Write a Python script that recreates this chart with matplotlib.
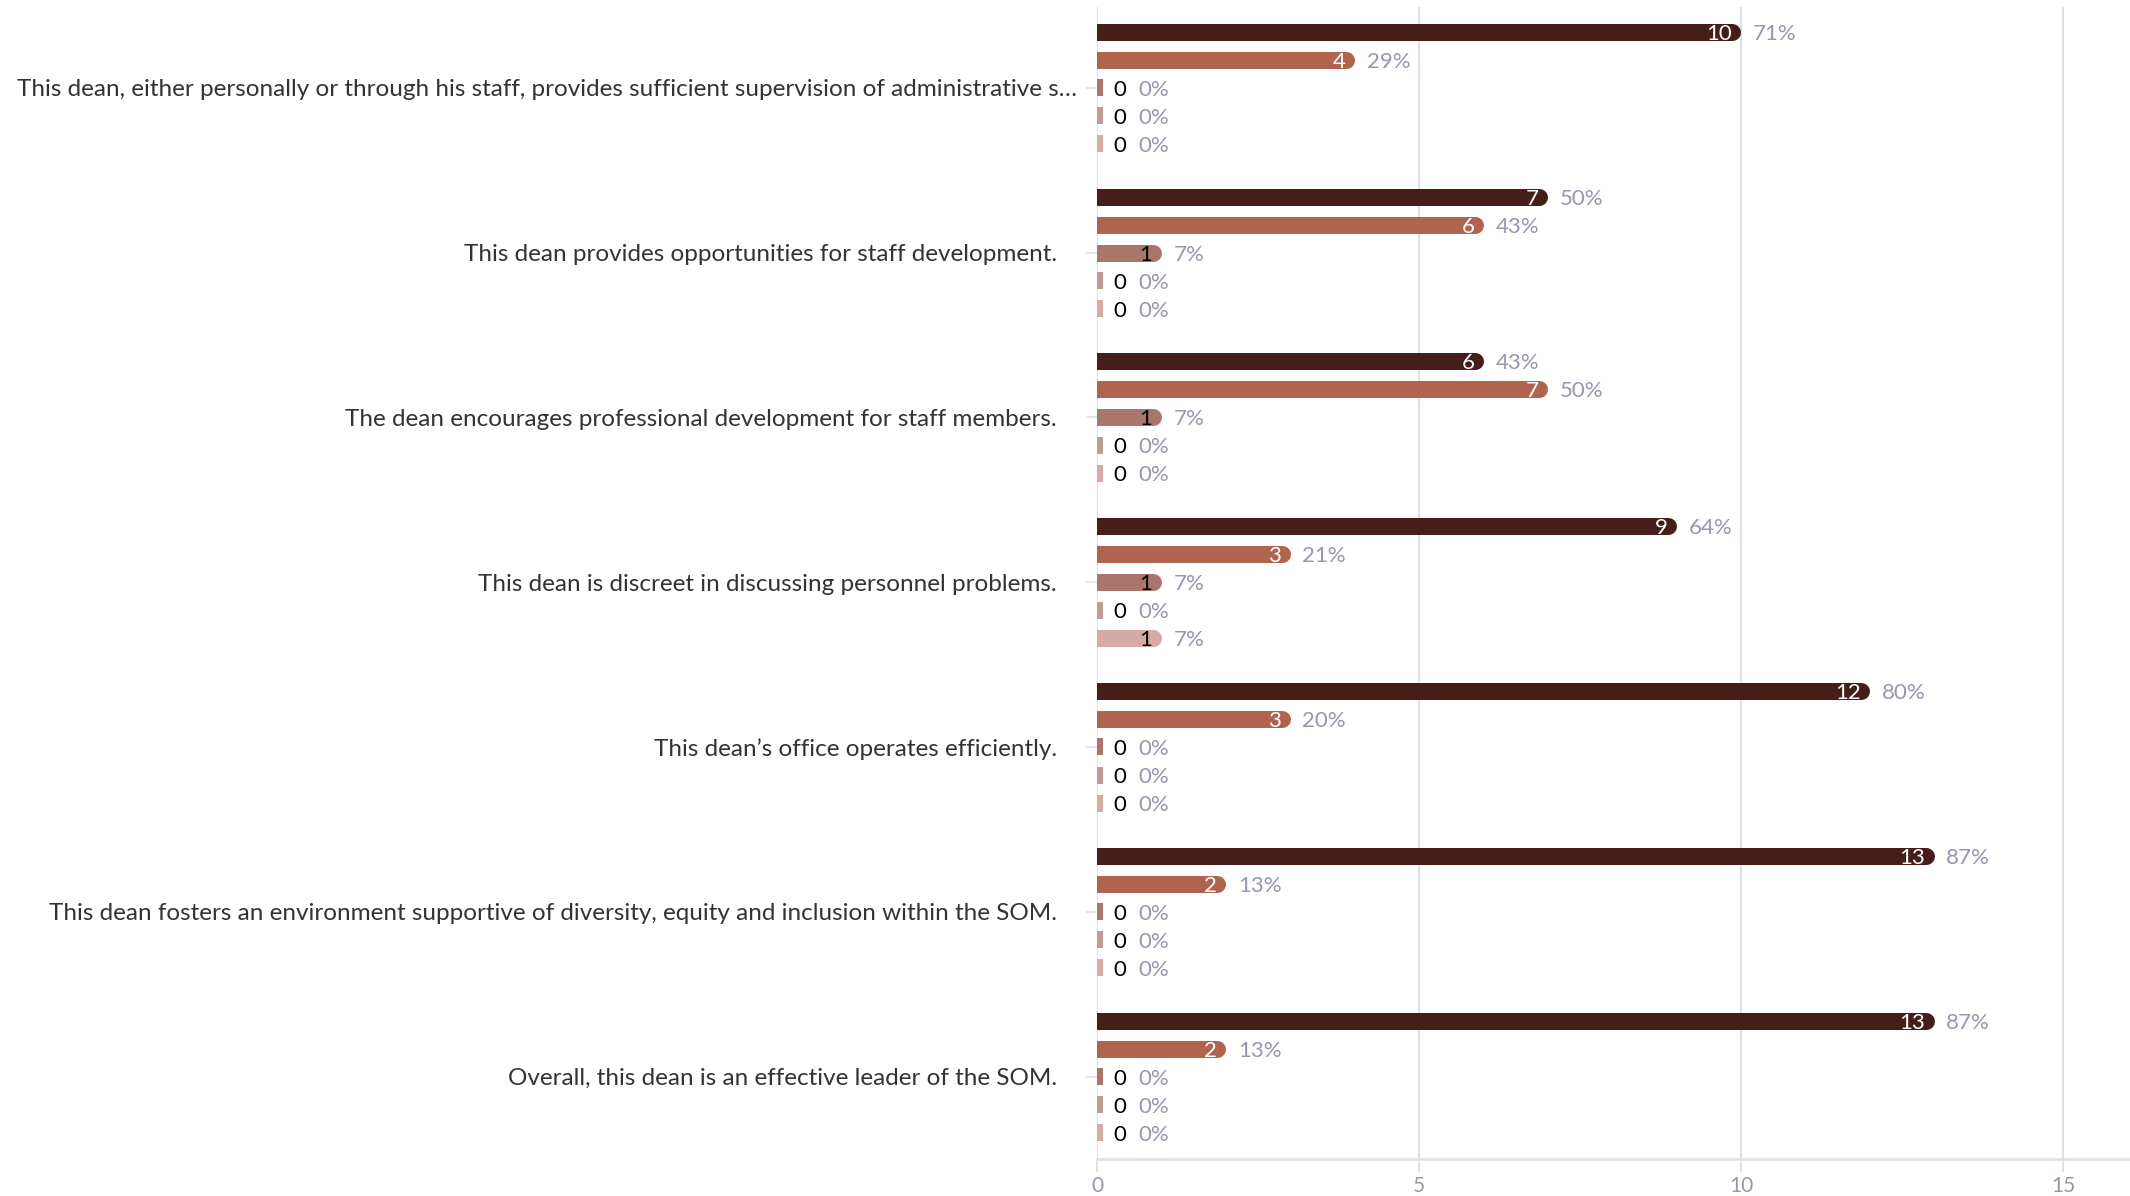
import numpy as np
import matplotlib
matplotlib.use('Agg')
import matplotlib.pyplot as plt
import matplotlib.transforms as mtransforms

#-------------------------------------------------------------------------------
# data
categories = [
    'This dean, either personally or through his staff, provides sufficient supervision of administrative s\u2026',
    'This dean provides opportunities for staff development.',
    'The dean encourages professional development for staff members.',
    'This dean is discreet in discussing personnel problems.',
    'This dean\u2019s office operates efficiently.',
    'This dean fosters an environment supportive of diversity, equity and inclusion within the SOM.',
    'Overall, this dean is an effective leader of the SOM.',
]
# five answer levels, one list per level
level1 = [10, 7, 6, 9, 12, 13, 13]
level2 = [4, 6, 7, 3, 3, 2, 2]
level3 = [0, 1, 1, 1, 0, 0, 0]
level4 = [0, 0, 0, 0, 0, 0, 0]
level5 = [0, 0, 0, 1, 0, 0, 0]
xticks = [0, 5, 10, 15]

#-------------------------------------------------------------------------------
levels = [level1, level2, level3, level4, level5]
colors = ['#451e1a', '#b0644e', '#a8766a', '#c09c97', '#d6aaa5']
count_colors = ['white', 'white', 'black', 'black', 'black']
pct_color = '#9696b0'
grid_color = '#e0e0ea'
plt.rcParams['font.family'] = ['Lato', 'DejaVu Sans']

counts = np.array(levels, dtype=float)
totals = counts.sum(axis=0)
pcts = np.round(counts / totals * 100).astype(int)

fig = plt.figure(figsize=(21.3, 11.96), dpi=100)
ax = fig.add_axes([0.515, 0.031, 0.485, 0.963])
xmax = 16.04
ax.set_xlim(0, xmax)
ax.set_ylim(6.5, -0.49)

# pixels -> data units along x / y
px = xmax / (0.485 * 2130)
py = 6.99 / (0.963 * 1196)
bar_px = 17
lw = bar_px * 72 / 100.0
r = bar_px / 2 * px
stub = 6 * px
offs = 0.17
ypos = np.arange(len(categories))
nsize = 16

for j in range(5):
    yy = ypos + (j - 2) * offs
    for i in range(len(categories)):
        v = counts[j, i]
        if v > 0:
            ax.plot([0, v - r], [yy[i], yy[i]], color=colors[j], lw=lw,
                    solid_capstyle='round', zorder=3)
            ax.annotate('%d' % v, (v, yy[i]), xytext=(-9, 0), textcoords='offset pixels',
                        ha='right', va='center_baseline', color=count_colors[j], fontsize=nsize, zorder=4)
            ax.annotate('%d%%' % pcts[j, i], (v, yy[i]), xytext=(12, 0), textcoords='offset pixels',
                        ha='left', va='center_baseline', color=pct_color, fontsize=nsize, zorder=4)
        else:
            ax.barh(yy[i], stub, height=bar_px * py, color=colors[j], zorder=3)
            ax.annotate('0', (0, yy[i]), xytext=(16, 0), textcoords='offset pixels',
                        ha='left', va='center_baseline', color='black', fontsize=nsize, zorder=4)
            ax.annotate('0%', (0, yy[i]), xytext=(41, 0), textcoords='offset pixels',
                        ha='left', va='center_baseline', color=pct_color, fontsize=nsize, zorder=4)

ax.set_yticks(ypos)
ax.set_yticklabels(categories, fontsize=17.5, color='#333333')
ax.tick_params(axis='y', length=8, width=1.2, color=grid_color, pad=21)
# the truncated first label sits a bit further right in the original
first = ax.get_yticklabels()[0]
first.set_transform(first.get_transform() + mtransforms.ScaledTranslation(0.2, 0, fig.dpi_scale_trans))
ax.set_xticks(xticks)
ax.tick_params(axis='x', length=9, width=1.5, color=grid_color, labelsize=15,
               labelcolor=pct_color, pad=3)
ax.grid(axis='x', color=grid_color, lw=1.5, zorder=0)
for s in ['top', 'right', 'left']:
    ax.spines[s].set_visible(False)
ax.spines['bottom'].set_color(grid_color)
ax.spines['bottom'].set_linewidth(2)

plt.savefig('out.png', dpi=100)
plt.close()
